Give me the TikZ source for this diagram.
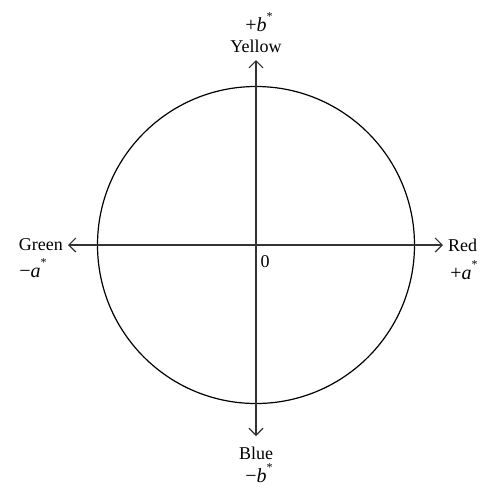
\documentclass[tikz,border=0pt]{standalone}
\usepackage{fontspec}
\setmainfont{Liberation Serif}
\usetikzlibrary{arrows.meta}
\newcommand{\supstar}{\raisebox{0.55em}{\fontsize{12}{12}\selectfont *}}
\begin{document}
\begin{tikzpicture}[x=1pt,y=-1pt,
  axis/.style={line width=1.2pt, color=black!80, -{Straight Barb[length=7pt,width=14pt,line width=1.2pt]}},
  lbl/.style={font=\fontsize{18}{20}\selectfont, inner sep=0pt},
  mlbl/.style={font=\fontsize{20}{22}\selectfont, inner sep=0pt}]
\useasboundingbox (0,0) rectangle (484,488);
\coordinate (c) at (256,245);
\node[draw, circle, line width=1.2pt, minimum size=317pt, inner sep=0pt] (circ) at (c) {};
\coordinate (L) at (68,245);
\coordinate (R) at (443,245);
\coordinate (T) at (256,60);
\coordinate (B) at (256,436);
\draw[axis] (c) -- (L);
\draw[axis] (c) -- (R);
\draw[axis] (c) -- (T);
\draw[axis] (c) -- (B);
\node[lbl, anchor=east] (green) at (63,245) {Green};
\node[mlbl] (ma) at (33,268) {−\textit{a}\supstar};
\node[lbl, anchor=west] (red) at (448,245) {Red};
\node[mlbl] (pa) at (464,270) {+\textit{a}\supstar};
\node[lbl] (yellow) at (256,46) {Yellow};
\node[mlbl] (pb) at (259,22) {+\textit{b}\supstar};
\node[lbl] (blue) at (256,453) {Blue};
\node[mlbl] (mb) at (259,473) {−\textit{b}\supstar};
\node[lbl] (zero) at (265,262) {0};
\end{tikzpicture}
\end{document}
